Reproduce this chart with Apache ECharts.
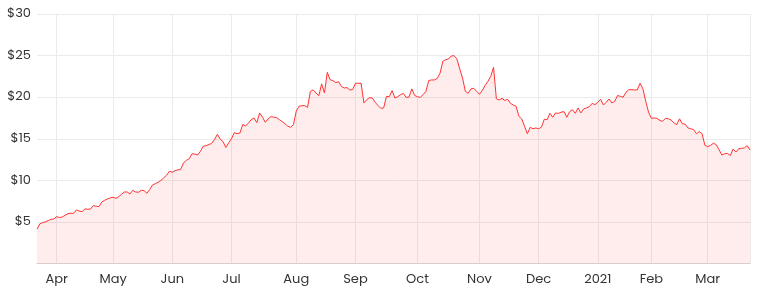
<!DOCTYPE html>
<html>
<head>
<meta charset="utf-8">
<script src="https://cdn.jsdelivr.net/npm/echarts@6/dist/echarts.min.js"></script>
<style>
html,body{margin:0;padding:0;background:#fff;}
#chart{width:759px;height:296px;}
</style>
</head>
<body>
<div id="chart"></div>
<script>
// Trading months and trading days (ASX calendar)
const monthKeys = ['2020-03','2020-04','2020-05','2020-06','2020-07','2020-08','2020-09','2020-10','2020-11','2020-12','2021-01','2021-02','2021-03'];
const tradingDays = [
  [23,24,25,26,27,30,31],
  [1,2,3,6,7,8,9,14,15,16,17,20,21,22,23,24,27,28,29,30],
  [1,4,5,6,7,8,11,12,13,14,15,18,19,20,21,22,25,26,27,28,29],
  [1,2,3,4,5,9,10,11,12,15,16,17,18,19,22,23,24,25,26,29,30],
  [1,2,3,6,7,8,9,10,13,14,15,16,17,20,21,22,23,24,27,28,29,30,31],
  [3,4,5,6,7,10,11,12,13,14,17,18,19,20,21,24,25,26,27,28,31],
  [1,2,3,4,7,8,9,10,11,14,15,16,17,18,21,22,23,24,25,28,29,30],
  [1,2,5,6,7,8,9,12,13,14,15,16,19,20,21,22,23,26,27,28,29,30],
  [2,3,4,5,6,9,10,11,12,13,16,17,18,19,20,23,24,25,26,27,30],
  [1,2,3,4,7,8,9,10,11,14,15,16,17,18,21,22,23,24,29,30,31],
  [4,5,6,7,8,11,12,13,14,15,18,19,20,21,22,25,27,28,29],
  [1,2,3,4,5,8,9,10,11,12,15,16,17,18,19,22,23,24,25,26],
  [1,2,3,4,5,8,9,10,11,12,15,16,17,18,19,22]
];
const monthLabels = {'01':'2021','02':'Feb','03':'Mar','04':'Apr','05':'May','06':'Jun','07':'Jul','08':'Aug','09':'Sep','10':'Oct','11':'Nov','12':'Dec'};

// Closing prices ($), one array per month
const pricesMar20 = [4.12,4.76,4.92,5.0,5.16,5.3,5.36];
const pricesApr20 = [5.64,5.52,5.6,5.8,6.0,6.04,6.04,6.44,6.3,6.24,6.56,6.52,6.55,6.96,6.9,6.84,7.4,7.6,7.76,7.9];
const pricesMay20 = [7.96,7.84,8.04,8.32,8.6,8.6,8.36,8.8,8.6,8.56,8.8,8.76,8.45,8.9,9.45,9.6,9.78,10.0,10.3,10.62,11.1];
const pricesJun20 = [10.97,11.17,11.25,11.33,12.1,12.4,12.6,13.2,13.15,13.05,13.5,14.1,14.17,14.3,14.45,14.9,15.54,14.95,14.66,13.95,14.5];
const pricesJul20 = [15.0,15.74,15.6,15.7,16.7,16.55,16.86,17.3,17.5,16.94,18.1,17.6,16.98,17.38,17.66,17.6,17.54,17.3,17.06,16.8,16.5,16.38,16.7];
const pricesAug20 = [18.34,18.9,18.98,18.98,18.78,20.7,20.87,20.5,20.18,21.6,20.5,22.99,22.1,21.99,21.75,21.86,21.3,21.1,21.15,20.87,20.9];
const pricesSep20 = [21.67,21.67,21.67,19.3,19.7,19.94,19.9,19.38,19.0,18.66,18.7,20.1,20.06,20.79,19.9,20.06,20.3,20.45,19.98,20.0,21.0,20.2];
const pricesOct20 = [20.06,19.98,20.3,20.7,22.0,22.07,22.07,22.25,22.87,24.3,24.5,24.6,24.95,24.99,24.6,23.4,22.3,20.7,20.46,21.0,21.07,20.7];
const pricesNov20 = [20.35,20.8,21.4,21.9,22.5,23.6,19.8,19.66,19.86,19.6,19.75,19.26,19.06,18.9,17.7,17.38,16.5,15.6,16.38,16.2,16.3];
const pricesDec20 = [16.2,16.4,17.34,17.3,18.06,17.58,18.1,18.05,18.2,18.26,17.58,18.26,18.5,18.06,18.7,18.1,18.6,18.7,18.86,19.26,19.1];
const pricesJan21 = [19.4,19.74,19.06,19.4,19.78,19.3,19.5,20.2,20.1,20.0,20.6,20.9,20.9,20.87,20.87,21.67,21.0,19.5,18.2];
const pricesFeb21 = [17.46,17.5,17.46,17.2,17.1,17.46,17.4,17.26,16.9,16.7,17.4,16.8,16.75,16.3,16.2,16.1,15.6,15.86,15.6,14.2];
const pricesMar21 = [14.05,14.2,14.46,14.3,13.7,13.05,13.2,13.25,12.97,13.77,13.4,13.8,13.85,13.9,14.17,13.65];

const yTicks = [0,5,10,15,20,25,30];

const prices = [].concat(pricesMar20,pricesApr20,pricesMay20,pricesJun20,pricesJul20,pricesAug20,
  pricesSep20,pricesOct20,pricesNov20,pricesDec20,pricesJan21,pricesFeb21,pricesMar21);

const categories = [];
const monthStart = [];
monthKeys.forEach((k, mi) => {
  tradingDays[mi].forEach((d, di) => {
    categories.push(k + '-' + String(d).padStart(2,'0'));
    monthStart.push(mi > 0 && di === 0);
  });
});
const lastIdx = categories.length - 1;

const chart = echarts.init(document.getElementById('chart'), null, {renderer:'canvas'});
const FONT = "Poppins, 'Open Sans', 'Noto Sans', sans-serif";
chart.setOption({
  animation: false,
  grid: {left: 37, right: 9, top: 14, bottom: 32.5, containLabel: false},
  xAxis: {
    type: 'category',
    data: categories,
    boundaryGap: false,
    axisLine: {show: true, lineStyle: {color: '#d6d6d6', width: 1}},
    axisTick: {show: false},
    axisLabel: {
      interval: (i) => monthStart[i],
      formatter: (v) => monthLabels[v.substr(5,2)],
      color: '#333',
      fontFamily: FONT,
      fontSize: 13,
      margin: 10
    },
    splitLine: {
      show: true,
      interval: (i) => monthStart[i] || i === lastIdx,
      lineStyle: {color: '#ebebeb', width: 1}
    }
  },
  yAxis: {
    type: 'value',
    min: yTicks[0],
    max: yTicks[yTicks.length-1],
    interval: 5,
    axisLine: {show: false},
    axisTick: {show: false},
    axisLabel: {
      formatter: (v) => v === 0 ? '' : '$' + v,
      color: '#333',
      fontFamily: FONT,
      fontSize: 13,
      margin: 6
    },
    splitLine: {show: true, lineStyle: {color: '#ebebeb', width: 1}}
  },
  series: [{
    type: 'line',
    data: prices,
    showSymbol: false,
    symbol: 'none',
    lineStyle: {color: '#ff3333', width: 1},
    areaStyle: {color: 'rgba(250, 40, 40, 0.12)'},
    smooth: false
  }]
});
</script>
</body>
</html>
